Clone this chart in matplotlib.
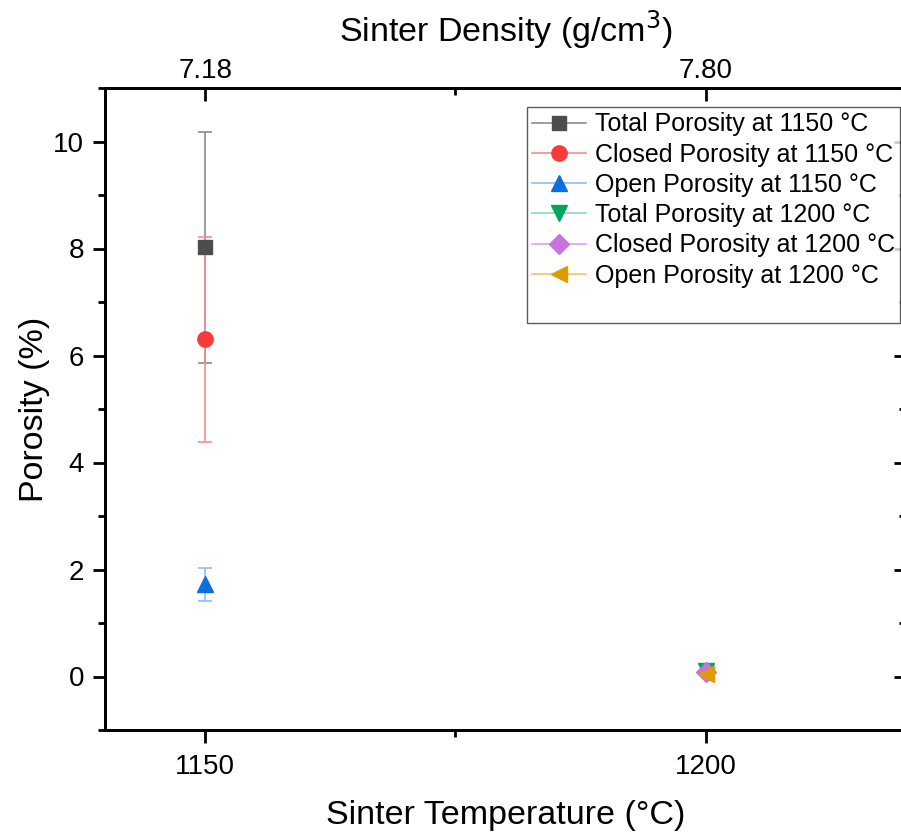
import matplotlib.pyplot as plt
from matplotlib.ticker import MultipleLocator
from matplotlib.lines import Line2D

plt.rcParams['font.family'] = ['Liberation Sans', 'DejaVu Sans']

temps = [1150, 1200]
densities = ['7.18', '7.80']

labels = ['Total Porosity at 1150 °C', 'Closed Porosity at 1150 °C', 'Open Porosity at 1150 °C',
          'Total Porosity at 1200 °C', 'Closed Porosity at 1200 °C', 'Open Porosity at 1200 °C']
x_vals = [1150, 1150, 1150, 1200, 1200, 1200]
y_vals = [8.02, 6.30, 1.72, 0.10, 0.08, 0.05]
y_err = [2.16, 1.91, 0.31, 0.0, 0.0, 0.0]

colors = ['#4d4d4d', '#f93a3a', '#0b6fe0', '#00a65e', '#c673de', '#e09b00']
line_colors = ['#8c8c8c', '#f98b8b', '#94bdf0', '#8fd9b7', '#dca2ee', '#efc56a']
markers = ['s', 'o', '^', 'v', 'D', '<']
msizes = [10, 11, 12, 12, 10, 12]

fig = plt.figure(figsize=(9.01, 8.35), dpi=100)
ax = fig.add_axes([105 / 901, 105 / 835, 801 / 901, 642 / 835])

for i in range(len(labels)):
    if y_err[i] > 0:
        ax.errorbar(x_vals[i], y_vals[i], yerr=y_err[i], fmt='none', ecolor=line_colors[i],
                    elinewidth=1.2, capsize=4.7, capthick=1.2, zorder=2)
for i in range(len(labels)):
    ax.plot(x_vals[i], y_vals[i], linestyle='none', marker=markers[i], ms=msizes[i],
            color=colors[i], zorder=3)

ax.set_xlim(1140, 1220)
ax.set_ylim(-1, 11)
ax.set_xticks(temps)
ax.xaxis.set_minor_locator(MultipleLocator(25))
ax.yaxis.set_major_locator(MultipleLocator(2))
ax.yaxis.set_minor_locator(MultipleLocator(1))
ax.tick_params(axis='both', which='major', direction='out', length=9, width=2, labelsize=20)
ax.tick_params(axis='both', which='minor', direction='out', length=5, width=2)
ax.tick_params(axis='y', which='both', right=True, labelright=False)
for sp in ax.spines.values():
    sp.set_linewidth(2)
ax.tick_params(axis='y', which='major', pad=6)
ax.tick_params(axis='x', which='major', pad=8)

ax.set_xlabel('Sinter Temperature (°C)', fontsize=24.5, labelpad=15)
ax.set_ylabel('Porosity (%)', fontsize=24.5, labelpad=2)

# right side ticks inward
for t in ax.yaxis.get_major_ticks() + ax.yaxis.get_minor_ticks():
    t.tick2line.set_marker(0)

top = ax.twiny()
top.set_xlim(ax.get_xlim())
top.set_xticks(temps)
top.set_xticklabels(densities)
top.xaxis.set_minor_locator(MultipleLocator(25))
top.tick_params(axis='x', which='major', direction='in', length=9, width=2, labelsize=20, pad=3)
top.tick_params(axis='x', which='minor', direction='in', length=5, width=2)
top.set_xlabel('Sinter Density (g/cm$^3$)', fontsize=24.5, labelpad=12)
for sp in top.spines.values():
    sp.set_linewidth(2)

handles = []
for i in range(len(labels)):
    handles.append(Line2D([0], [0], color=line_colors[i], lw=1.2, marker=markers[i],
                          ms=msizes[i], markerfacecolor=colors[i], markeredgecolor=colors[i]))
handles.append(Line2D([0], [0], color='none'))
leg = ax.legend(handles, labels + [''], loc='upper right', bbox_to_anchor=(0.9925, 0.97),
                fontsize=18, frameon=True, fancybox=False, edgecolor='#333333',
                handlelength=2.15, handletextpad=0.35, labelspacing=0.25, borderpad=0.2,
                borderaxespad=0)
leg.get_frame().set_linewidth(1)

fig.savefig('out.png', dpi=100)
